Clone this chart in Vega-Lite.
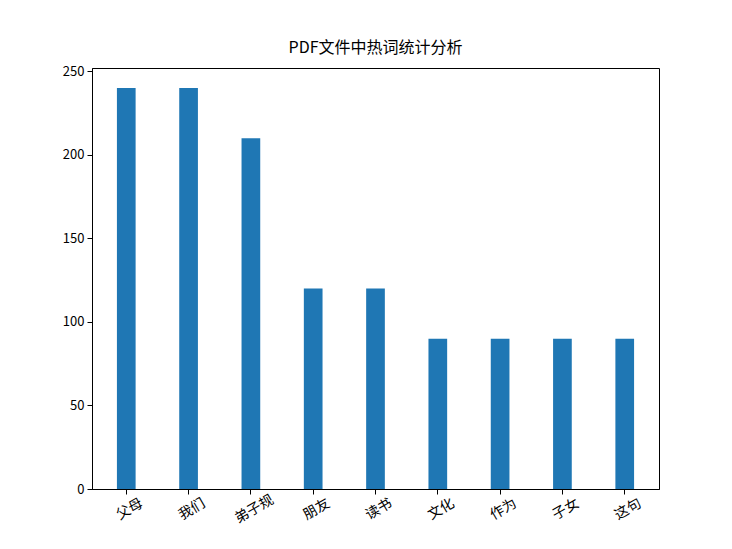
{
  "$schema": "https://vega.github.io/schema/vega-lite/v6.json",
  "width": 567,
  "height": 421,
  "autosize": {"type": "none"},
  "padding": {"left": 92, "top": 68, "right": 73, "bottom": 60},
  "background": "white",
  "title": {
    "text": "PDF文件中热词统计分析",
    "font": "Noto Sans CJK SC",
    "fontSize": 16,
    "fontWeight": "normal",
    "color": "black",
    "offset": 9
  },
  "data": {
    "values": [
      {"word": "父母", "count": 240},
      {"word": "我们", "count": 240},
      {"word": "弟子规", "count": 210},
      {"word": "朋友", "count": 120},
      {"word": "读书", "count": 120},
      {"word": "文化", "count": 90},
      {"word": "作为", "count": 90},
      {"word": "子女", "count": 90},
      {"word": "这句", "count": 90}
    ]
  },
  "mark": {"type": "bar", "color": "#1f77b4"},
  "encoding": {
    "x": {
      "field": "word",
      "type": "nominal",
      "sort": null,
      "scale": {"paddingInner": 0.7, "paddingOuter": 0.4},
      "axis": {
        "title": null,
        "labelAngle": -30,
        "labelAlign": "center",
        "labelBaseline": "top",
        "labelPadding": 9,
        "labelFont": "Noto Sans CJK SC",
        "labelFontSize": 14,
        "labelColor": "black",
        "domainColor": "black",
        "tickColor": "black",
        "tickSize": 5,
        "grid": false
      }
    },
    "y": {
      "field": "count",
      "type": "quantitative",
      "scale": {"domain": [0, 252], "nice": false},
      "axis": {
        "title": null,
        "values": [0, 50, 100, 150, 200, 250],
        "labelFont": "Noto Sans CJK SC",
        "labelFontSize": 13,
        "labelColor": "black",
        "labelPadding": 3,
        "domainColor": "black",
        "tickColor": "black",
        "tickSize": 5,
        "grid": false
      }
    }
  },
  "config": {
    "view": {"stroke": "black", "strokeWidth": 1}
  }
}
